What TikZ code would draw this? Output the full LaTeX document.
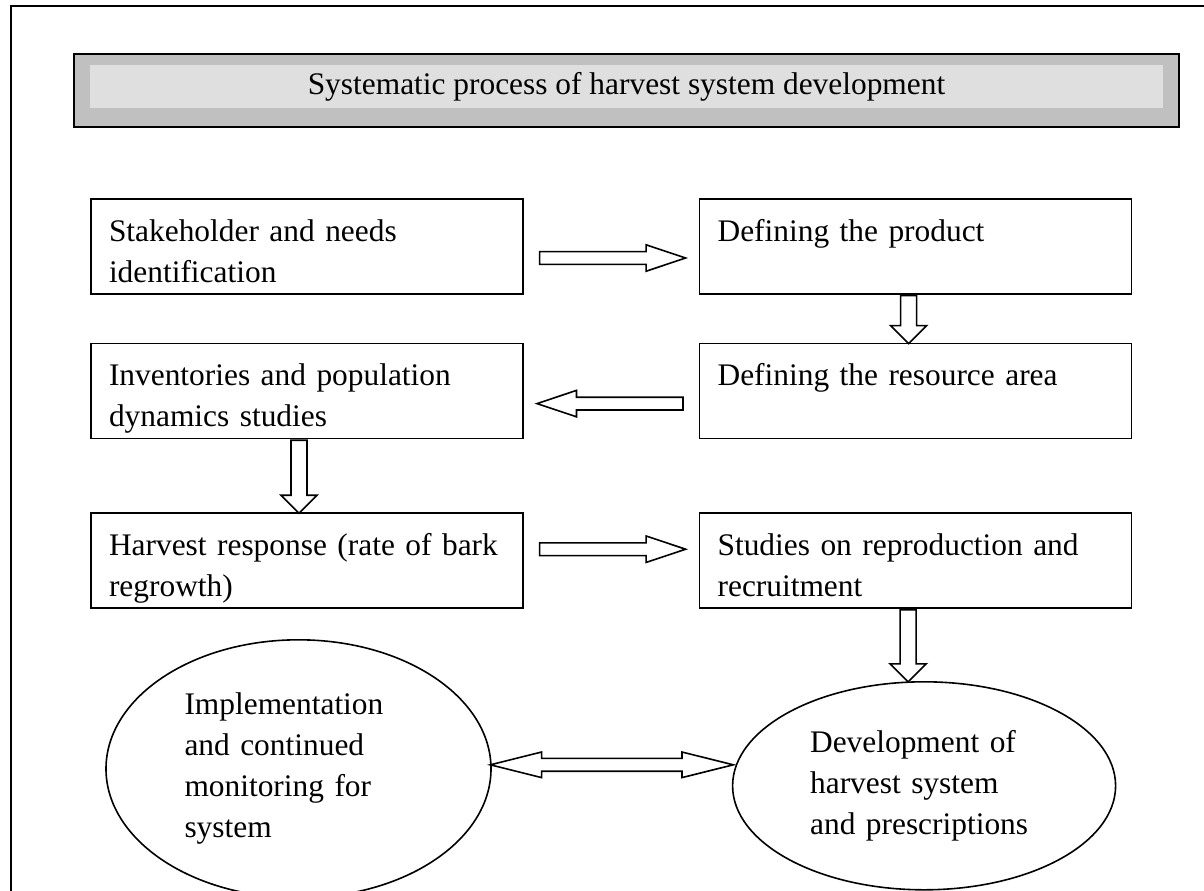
\documentclass[tikz,border=0pt]{standalone}
\usepackage{fontspec}
\setmainfont{Liberation Serif}
\usetikzlibrary{positioning,shapes.geometric,shapes.arrows}

\definecolor{titlegray}{HTML}{C0C0C0}
\definecolor{titlelight}{HTML}{DFDFDF}

\begin{document}
\begin{tikzpicture}[font=\fontsize{15.7}{20.5}\selectfont, node distance=24pt and 87.5pt,
    stage/.style={draw, line width=0.8pt, rectangle, inner xsep=9pt, inner ysep=0pt,
        text width=198pt, align=left,
        execute at begin node={\rule{0pt}{21pt}},
        execute at end node={\rule[-6pt]{0pt}{6pt}}},
    goal/.style={draw, line width=0.8pt, ellipse, inner sep=0pt, text width=114pt, align=left},
    titlebox/.style={draw, line width=1.2pt, fill=titlegray, inner sep=0pt,
        minimum width=552.5pt, minimum height=36.5pt},
    titlebar/.style={fill=titlelight, inner sep=0pt, minimum width=536.5pt, minimum height=21.5pt},
    flow/.style={draw, line width=0.8pt, fill=white, inner sep=0pt, text depth=0pt},
    rarrow/.style={flow, single arrow, pos=0, anchor=tail, text height=5.6pt,
        single arrow head extend=3.4pt, single arrow tip angle=37, minimum height=73pt},
    larrow/.style={rarrow, rotate=180},
    darrow/.style={flow, single arrow, pos=0, anchor=tail, rotate=-90, text height=7.2pt,
        single arrow head extend=5pt, single arrow tip angle=90},
    dblarrow/.style={flow, double arrow, text height=5.6pt, double arrow head extend=3.2pt,
        double arrow tip angle=28, minimum height=121.5pt}]

    \useasboundingbox (0,0) rectangle (602pt,-445pt);
    \draw [line width=1pt] (5.5pt,-3pt) rectangle (640pt,-470pt);

    % Title
    \node [titlebox] (title) at (313.25pt,-45.25pt) {};
    \node [titlebar] (titlebar) at ([yshift=2pt]title.center) {Systematic process of harvest system development};

    % Nodes {stake, product, invent, resource, response, studies, implement, develop}
    \node [stage] (stake)    at (153.5pt,-123.25pt)  {Stakeholder and needs\\identification};
    \node [stage] (product)  [right=of stake]        {Defining the product\\\mbox{}};
    \node [stage] (invent)   [below=of stake]        {Inventories and population\\dynamics studies};
    \node [stage] (resource) [right=of invent]       {Defining the resource area\\\mbox{}};
    \node [stage] (response) [below=36.5pt of invent] {Harvest response (rate of bark\\regrowth)};
    \node [stage] (studies)  [right=of response]     {Studies on reproduction and\\recruitment};
    \node [goal, minimum width=192.5pt, minimum height=129pt] (implement)
        [below=15pt of response, xshift=-4.25pt] {Implementation\\and continued\\monitoring for\\system};
    \node [goal, minimum width=191.5pt, minimum height=104pt] (develop)
        [below=36pt of studies, xshift=4.25pt] {Development of\\harvest system\\and prescriptions};

    % Arrows
    \path ([shift={(7.5pt,-5.75pt)}]stake.east) -- node [rarrow] {} (product.west);
    \path ([xshift=-3.5pt]product.south) -- node [darrow, minimum height=24pt] {} ([xshift=-3.5pt]resource.north);
    \path ([shift={(-7.5pt,-6.25pt)}]resource.west) -- node [larrow] {} (invent.east);
    \path ([xshift=-4pt]invent.south) -- node [darrow, minimum height=36.5pt] {} ([xshift=-4pt]response.north);
    \path ([shift={(7.5pt,5.75pt)}]response.east) -- node [rarrow] {} (studies.west);
    \path ([xshift=-3.75pt]studies.south) -- node [darrow, minimum height=36pt] {} ([xshift=-8pt]develop.north);
    \path ([yshift=6.25pt]implement.east) -- node [dblarrow] {} ([yshift=6.25pt]develop.west);

\end{tikzpicture}
\end{document}
